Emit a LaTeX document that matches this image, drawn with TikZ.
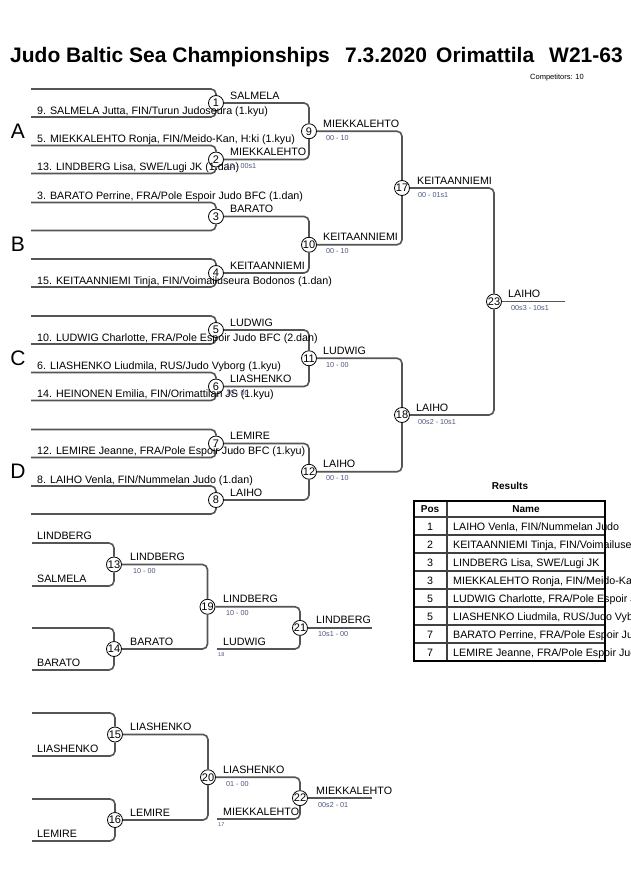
\documentclass[tikz,border=0pt]{standalone}
\usepackage{fontspec}
\setmainfont{Liberation Sans}
\definecolor{brc}{RGB}{85,85,85}
\definecolor{scc}{RGB}{75,85,125}
\begin{document}
\begin{tikzpicture}[x=1pt,y=-1pt,
  br/.style={draw=brc, line width=1.6pt, rounded corners=5pt},
  mt/.style={circle, draw=black, fill=white, line width=0.8pt, minimum size=15pt, inner sep=0pt, font=\fontsize{11}{11}\selectfont},
  nm/.style={anchor=base west, inner sep=0pt, font=\fontsize{10.7}{12}\selectfont},
  sc/.style={anchor=base west, inner sep=0pt, text=scc, font=\fontsize{7.2}{8}\selectfont},
  tiny/.style={anchor=base west, inner sep=0pt, text=scc, font=\fontsize{5.5}{6}\selectfont},
  tt/.style={anchor=base west, inner sep=0pt, font=\bfseries\fontsize{21}{24}\selectfont},
  pl/.style={inner sep=0pt, font=\fontsize{21}{22}\selectfont},
  hd/.style={inner sep=0pt, font=\bfseries\fontsize{10}{12}\selectfont},
  rw/.style={anchor=base west, inner sep=0pt, font=\fontsize{10.7}{12}\selectfont},
  rp/.style={anchor=base, inner sep=0pt, font=\fontsize{10.7}{12}\selectfont},
  tl/.style={draw=black, line width=1.6pt},
  rl/.style={draw=black!75, line width=1.4pt}]
\useasboundingbox (0,0) rectangle (630,891);
\clip (0,0) rectangle (630,891);
\fill[white] (0,0) rectangle (630,891);

% title
\node[tt] (t1) at (10,63) {Judo Baltic Sea Championships};
\node[tt] (t2) at (345,63) {7.3.2020};
\node[tt] (t3) at (436,63) {Orimattila};
\node[tt] (t4) at (549,63) {W21-63};
\node[anchor=base west, inner sep=0pt, font=\fontsize{7.5}{8}\selectfont] (comp) at (530,79) {Competitors: 10};

% pool letters
\node[pl] (pA) at (18,131) {A};
\node[pl] (pB) at (18,244.5) {B};
\node[pl] (pC) at (18,358) {C};
\node[pl] (pD) at (18,471.5) {D};

% entrant line starts
\coordinate (eA1) at (31,89);    \coordinate (eA2) at (31,117);
\coordinate (eA3) at (31,145.5); \coordinate (eA4) at (31,173.5);
\coordinate (eB1) at (31,202.5); \coordinate (eB2) at (31,230.5);
\coordinate (eB3) at (31,259);   \coordinate (eB4) at (31,287);
\coordinate (eC1) at (31,316);   \coordinate (eC2) at (31,344);
\coordinate (eC3) at (31,372.5); \coordinate (eC4) at (31,400.5);
\coordinate (eD1) at (31,429.5); \coordinate (eD2) at (31,457.5);
\coordinate (eD3) at (31,486);   \coordinate (eD4) at (31,514);

% match nodes, main bracket
\node[mt] (m1) at (216,103) {1};
\node[mt] (m2) at (216,159.5) {2};
\node[mt] (m3) at (216,216.5) {3};
\node[mt] (m4) at (216,273) {4};
\node[mt] (m5) at (216,330) {5};
\node[mt] (m6) at (216,386.5) {6};
\node[mt] (m7) at (216,443.5) {7};
\node[mt] (m8) at (216,500) {8};
\node[mt] (m9) at (309,131.25) {9};
\node[mt] (m10) at (309,244.75) {10};
\node[mt] (m11) at (309,358.25) {11};
\node[mt] (m12) at (309,471.75) {12};
\node[mt] (m17) at (402,188) {17};
\node[mt] (m18) at (402,415) {18};
\node[mt] (m23) at (494,301.5) {23};
\coordinate (fin) at (565,301.5);

\draw[br] (eA1) -| (m1); \draw[br] (eA2) -| (m1);
\draw[br] (eA3) -| (m2); \draw[br] (eA4) -| (m2);
\draw[br] (eB1) -| (m3); \draw[br] (eB2) -| (m3);
\draw[br] (eB3) -| (m4); \draw[br] (eB4) -| (m4);
\draw[br] (eC1) -| (m5); \draw[br] (eC2) -| (m5);
\draw[br] (eC3) -| (m6); \draw[br] (eC4) -| (m6);
\draw[br] (eD1) -| (m7); \draw[br] (eD2) -| (m7);
\draw[br] (eD3) -| (m8); \draw[br] (eD4) -| (m8);
\draw[br] (m1) -| (m9);  \draw[br] (m2) -| (m9);
\draw[br] (m3) -| (m10); \draw[br] (m4) -| (m10);
\draw[br] (m5) -| (m11); \draw[br] (m6) -| (m11);
\draw[br] (m7) -| (m12); \draw[br] (m8) -| (m12);
\draw[br] (m9) -| (m17); \draw[br] (m10) -| (m17);
\draw[br] (m11) -| (m18); \draw[br] (m12) -| (m18);
\draw[br] (m17) -| (m23); \draw[br] (m18) -| (m23);
\draw[br] (m23) -- (fin);

% entrant texts
\node[nm] (n9) at (37,114) {9. SALMELA Jutta, FIN/Turun Judoseura (1.kyu)};
\node[nm] (n5) at (37,142.5) {5. MIEKKALEHTO Ronja, FIN/Meido-Kan, H:ki (1.kyu)};
\node[nm] (n13) at (37,170.5) {13. LINDBERG Lisa, SWE/Lugi JK (1.dan)};
\node[nm] (n3) at (37,199.5) {3. BARATO Perrine, FRA/Pole Espoir Judo BFC (1.dan)};
\node[nm] (n15) at (37,284) {15. KEITAANNIEMI Tinja, FIN/Voimailuseura Bodonos (1.dan)};
\node[nm] (n10) at (37,341) {10. LUDWIG Charlotte, FRA/Pole Espoir Judo BFC (2.dan)};
\node[nm] (n6) at (37,369.5) {6. LIASHENKO Liudmila, RUS/Judo Vyborg (1.kyu)};
\node[nm] (n14) at (37,397.5) {14. HEINONEN Emilia, FIN/Orimattilan JS (1.kyu)};
\node[nm] (n12) at (37,454.5) {12. LEMIRE Jeanne, FRA/Pole Espoir Judo BFC (1.kyu)};
\node[nm] (n8) at (37,483) {8. LAIHO Venla, FIN/Nummelan Judo (1.dan)};

% winner labels round 1
\node[nm] (w1) at (230,99) {SALMELA};
\node[nm] (w2) at (230,155.5) {MIEKKALEHTO};
\node[sc] (s2) at (226,168.5) {10 - 00s1};
\node[nm] (w3) at (230,212.5) {BARATO};
\node[nm] (w4) at (230,269) {KEITAANNIEMI};
\node[nm] (w5) at (230,326) {LUDWIG};
\node[nm] (w6) at (230,382.5) {LIASHENKO};
\node[sc] (s6) at (226,395.5) {10 - 00};
\node[nm] (w7) at (230,439.5) {LEMIRE};
\node[nm] (w8) at (230,496) {LAIHO};

% round 2
\node[nm] (w9) at (323,127.25) {MIEKKALEHTO};
\node[sc] (s9) at (326,140.25) {00 - 10};
\node[nm] (w10) at (323,240.75) {KEITAANNIEMI};
\node[sc] (s10) at (326,253.75) {00 - 10};
\node[nm] (w11) at (323,354.25) {LUDWIG};
\node[sc] (s11) at (326,367.25) {10 - 00};
\node[nm] (w12) at (323,467.75) {LAIHO};
\node[sc] (s12) at (326,480.75) {00 - 10};

% round 3 and final
\node[nm] (w17) at (417,184) {KEITAANNIEMI};
\node[sc] (s17) at (418,197) {00 - 01s1};
\node[nm] (w18) at (416,411) {LAIHO};
\node[sc] (s18) at (418,424) {00s2 - 10s1};
\node[nm] (w23) at (508,297.5) {LAIHO};
\node[sc] (s23) at (511,310.5) {00s3 - 10s1};

% repechage 1
\coordinate (r13a) at (32,543); \coordinate (r13b) at (32,586);
\coordinate (r14a) at (32,628); \coordinate (r14b) at (32,670);
\node[mt] (m13) at (114,564.5) {13};
\node[mt] (m14) at (114,649) {14};
\node[mt] (m19) at (207.5,606.75) {19};
\node[mt] (m21) at (300,627.9) {21};
\coordinate (lud) at (217,649);
\coordinate (rf1) at (372,627.9);
\draw[br] (r13a) -| (m13); \draw[br] (r13b) -| (m13);
\draw[br] (r14a) -| (m14); \draw[br] (r14b) -| (m14);
\draw[br] (m13) -| (m19); \draw[br] (m14) -| (m19);
\draw[br] (m19) -| (m21); \draw[br] (lud) -| (m21);
\draw[br] (m21) -- (rf1);
\node[nm] (q1) at (37,539) {LINDBERG};
\node[nm] (q2) at (37,582) {SALMELA};
\node[nm] (q3) at (37,666) {BARATO};
\node[nm] (w13) at (130,560.5) {LINDBERG};
\node[sc] (s13) at (133,573.5) {10 - 00};
\node[nm] (w14) at (130,645) {BARATO};
\node[nm] (w19) at (223,602.75) {LINDBERG};
\node[sc] (s19) at (226,615.75) {10 - 00};
\node[nm] (wl) at (223,645) {LUDWIG};
\node[tiny] (t18) at (218,656) {18};
\node[nm] (w21) at (316,623.9) {LINDBERG};
\node[sc] (s21) at (318,636.9) {10s1 - 00};

% repechage 2
\coordinate (r15a) at (32,713); \coordinate (r15b) at (32,756);
\coordinate (r16a) at (32,799); \coordinate (r16b) at (32,841);
\node[mt] (m15) at (115,734.5) {15};
\node[mt] (m16) at (115,820) {16};
\node[mt] (m20) at (208,777.25) {20};
\node[mt] (m22) at (300,798.1) {22};
\coordinate (mie) at (217,819);
\coordinate (rf2) at (372,798.1);
\draw[br] (r15a) -| (m15); \draw[br] (r15b) -| (m15);
\draw[br] (r16a) -| (m16); \draw[br] (r16b) -| (m16);
\draw[br] (m15) -| (m20); \draw[br] (m16) -| (m20);
\draw[br] (m20) -| (m22); \draw[br] (mie) -| (m22);
\draw[br] (m22) -- (rf2);
\node[nm] (q4) at (37,752) {LIASHENKO};
\node[nm] (q5) at (37,837) {LEMIRE};
\node[nm] (w15) at (130,730.5) {LIASHENKO};
\node[nm] (w16) at (130,816) {LEMIRE};
\node[nm] (w20) at (223,773.25) {LIASHENKO};
\node[sc] (s20) at (226,786.25) {01 - 00};
\node[nm] (wm) at (223,815) {MIEKKALEHTO};
\node[tiny] (t17) at (218,826) {17};
\node[nm] (w22) at (316,794.1) {MIEKKALEHTO};
\node[sc] (s22) at (318,807.1) {00s2 - 01};

% results table
\node[hd] (res) at (510,486) {Results};
\node[rp] (p1) at (430,530) {1};
\node[rw] (r1) at (453,530) {LAIHO Venla, FIN/Nummelan Judo};
\node[rp] (p2) at (430,548) {2};
\node[rw] (r2) at (453,548) {KEITAANNIEMI Tinja, FIN/Voimailuseura Bodonos};
\node[rp] (p3) at (430,566) {3};
\node[rw] (r3) at (453,566) {LINDBERG Lisa, SWE/Lugi JK};
\node[rp] (p4) at (430,584) {3};
\node[rw] (r4) at (453,584) {MIEKKALEHTO Ronja, FIN/Meido-Kan, H:ki};
\node[rp] (p5) at (430,602) {5};
\node[rw] (r5) at (453,602) {LUDWIG Charlotte, FRA/Pole Espoir Judo BFC};
\node[rp] (p6) at (430,620) {5};
\node[rw] (r6) at (453,620) {LIASHENKO Liudmila, RUS/Judo Vyborg};
\node[rp] (p7) at (430,638) {7};
\node[rw] (r7) at (453,638) {BARATO Perrine, FRA/Pole Espoir Judo BFC};
\node[rp] (p8) at (430,656) {7};
\node[rw] (r8) at (453,656) {LEMIRE Jeanne, FRA/Pole Espoir Judo BFC};
\foreach \yy in {517,535,553,571,589,607,625,643} {
  \draw[rl] (414,\yy) -- (605,\yy);
}
\draw[rl] (447,501) -- (447,661);
\draw[tl] (414,501) rectangle (605,661);
\node[hd] (hp) at (430,509) {Pos};
\node[hd] (hn) at (526,509) {Name};
\end{tikzpicture}
\end{document}
